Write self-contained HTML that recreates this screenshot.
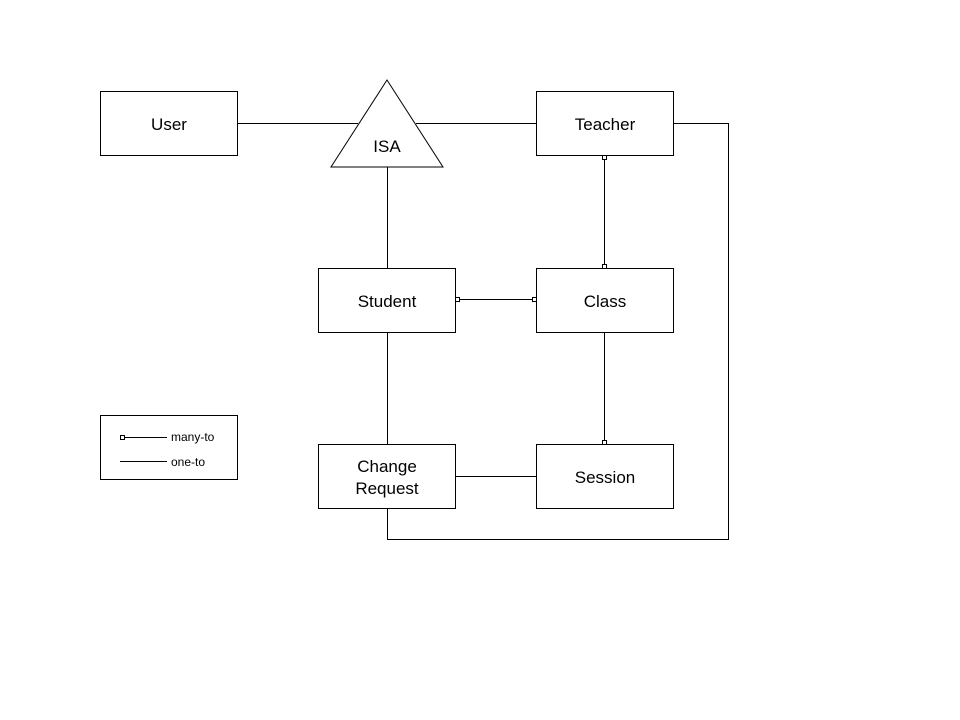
<!DOCTYPE html>
<html><head><style>body{margin:0;background:#fff}</style></head><body>
<svg width="960" height="720" xmlns="http://www.w3.org/2000/svg" style="display:block">
<g fill="#fff" stroke="#000" stroke-width="1" shape-rendering="crispEdges">
<rect x="100.5" y="91.5" width="137" height="64"/>
<rect x="536.5" y="91.5" width="137" height="64"/>
<rect x="318.5" y="268.5" width="137" height="64"/>
<rect x="536.5" y="268.5" width="137" height="64"/>
<rect x="318.5" y="444.5" width="137" height="64"/>
<rect x="536.5" y="444.5" width="137" height="64"/>
<rect x="100.5" y="415.5" width="137" height="64"/>
</g>
<polygon points="387,80 443,167 331,167" fill="#fff" stroke="#000"/>
<g stroke="#000" stroke-width="1" fill="none">
<line x1="237" y1="123.5" x2="358" y2="123.5"/>
<line x1="416" y1="123.5" x2="536" y2="123.5"/>
<line x1="387.5" y1="167" x2="387.5" y2="268"/>
<line x1="604.5" y1="155" x2="604.5" y2="268"/>
<line x1="455" y1="299.5" x2="536" y2="299.5"/>
<line x1="604.5" y1="332" x2="604.5" y2="444"/>
<line x1="387.5" y1="332" x2="387.5" y2="444"/>
<line x1="455" y1="476.5" x2="536" y2="476.5"/>
<polyline points="673,123.5 728.5,123.5 728.5,539.5 387.5,539.5 387.5,508"/>
<line x1="124" y1="437.5" x2="167" y2="437.5"/>
<line x1="120" y1="461.5" x2="167" y2="461.5"/>
</g>
<g fill="#fff" stroke="#000" stroke-width="1" shape-rendering="crispEdges">
<rect x="602.5" y="155.5" width="4" height="4"/>
<rect x="602.5" y="264.5" width="4" height="4"/>
<rect x="455.5" y="297.5" width="4" height="4"/>
<rect x="532.5" y="297.5" width="4" height="4"/>
<rect x="602.5" y="440.5" width="4" height="4"/>
<rect x="120.5" y="435.5" width="4" height="4"/>
</g>
<g font-family="Liberation Sans, sans-serif" font-size="17" text-anchor="middle" fill="#000">
<text x="169" y="130">User</text>
<text x="605" y="130">Teacher</text>
<text x="387" y="152">ISA</text>
<text x="387" y="307">Student</text>
<text x="605" y="307">Class</text>
<text x="387" y="472">Change</text>
<text x="387" y="494">Request</text>
<text x="605" y="483">Session</text>
</g>
<g font-family="Liberation Sans, sans-serif" font-size="12" fill="#000">
<text x="171" y="441">many-to</text>
<text x="171" y="466">one-to</text>
</g>
</svg>
</body></html>
